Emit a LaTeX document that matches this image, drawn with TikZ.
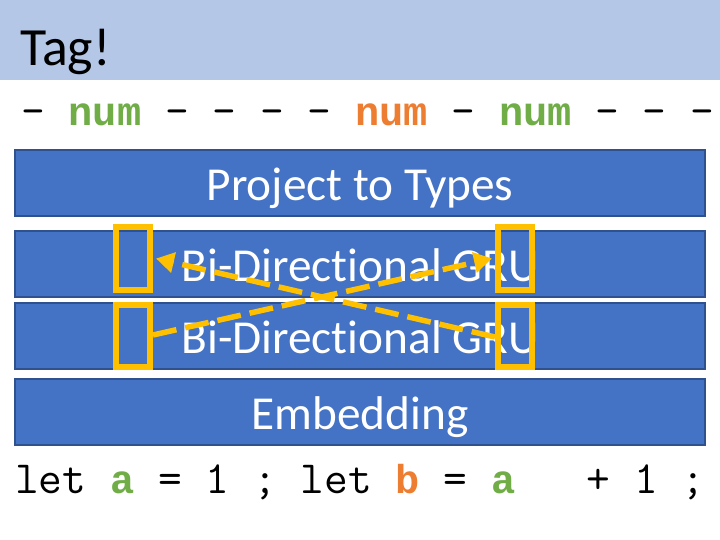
\documentclass[tikz,border=0pt]{standalone}
\usepackage{fontspec}
\setmainfont[Ligatures=NoCommon]{Carlito}
\newfontfamily\coderm{Latin Modern Mono}
\newfontfamily\codebf{Liberation Mono Bold}
\usetikzlibrary{arrows.meta}
\definecolor{band}{HTML}{B4C7E7}
\definecolor{boxfill}{HTML}{4472C4}
\definecolor{boxline}{HTML}{2F528F}
\definecolor{hl}{HTML}{FFC000}
\definecolor{tgreen}{HTML}{70AD47}
\definecolor{torange}{HTML}{ED7D31}
\newcommand{\bb}[2]{\textcolor{#1}{\codebf\fontsize{40.5}{44}\selectfont #2}}
\tikzset{
  layer/.style={draw=boxline, fill=boxfill, line width=1.2bp, minimum width=690bp, minimum height=66bp, inner sep=0pt, text=white, text height=35bp, text depth=0pt, font=\fontsize{47.5}{52}\selectfont},
  cell/.style={draw=hl, line width=6bp, minimum width=34bp, minimum height=62bp, inner sep=0pt},
  flow/.style={draw=hl, line width=5.5bp, dash pattern=on 24bp off 9bp, -{Triangle[length=18bp,width=20bp]}},
  code/.style={anchor=base west, inner sep=0pt, font=\coderm\fontsize{46.3}{50}\selectfont}
}
\begin{document}
\begin{tikzpicture}[x=1bp,y=-1bp]
\useasboundingbox (0,0) rectangle (720,540);
\fill[band] (0,0) rectangle (720,80);
\node[anchor=base west, inner sep=0pt, font=\fontsize{54}{58}\selectfont] (title) at (20,66) {Tag!};
\node[code] (tags) at (21,126) {-~\bb{tgreen}{num}~-~-~-~-~\bb{torange}{num}~-~\bb{tgreen}{num}~-~-~-};
\node[layer] (proj) at (360,183) {Project to Types};
\node[layer] (gru1) at (360,264) {Bi-Directional GRU};
\node[layer] (gru2) at (360,336) {Bi-Directional GRU};
\node[layer] (emb) at (360,412) {Embedding};
\node[code] (src) at (15,493) {let~\bb{tgreen}{a}~=~1~;~let~\bb{torange}{b}~=~\bb{tgreen}{a}~~~+~1~;};
\node[cell] (tl) at (133,258.5) {};
\node[cell] (bl) at (133,336) {};
\node[cell] (tr) at (515,258.5) {};
\node[cell] (br) at (515,336) {};
\draw[flow] ([yshift=1bp]bl.east) -- ([xshift=-3bp]tr.west);
\draw[flow] ([yshift=-1bp]br.west) -- ([xshift=3bp]tl.east);
\end{tikzpicture}
\end{document}
